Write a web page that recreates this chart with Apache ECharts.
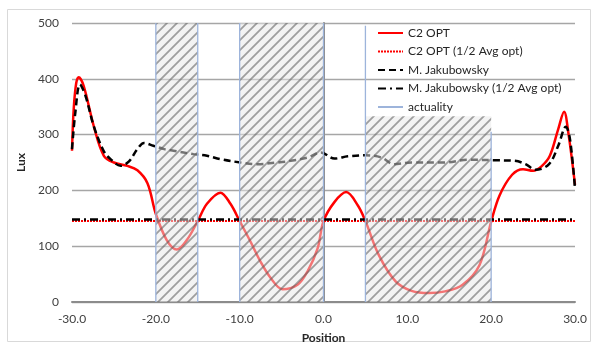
<!DOCTYPE html>
<html><head><meta charset="utf-8">
<script src="https://cdn.jsdelivr.net/npm/echarts@6/dist/echarts.min.js"></script>
<style>html,body{margin:0;padding:0;background:#fff}#c{width:598px;height:349px}</style>
</head><body><div id="c"></div>
<script>
// ---- data ----
const c2opt = [[-30,271],[-29.8,345],[-29.5,392],[-29.2,403],[-28.6,387],[-27.4,315],[-26.2,262],[-25.0,250],[-23.4,244],[-22.2,236],[-21.0,213],[-20.0,158],[-18.7,111],[-17.5,94],[-16.3,111],[-15.0,145],[-13.9,176],[-12.3,196],[-11.1,176],[-10.0,145],[-8.7,108],[-7.5,72],[-6.3,43],[-4.9,23],[-3.1,31],[-1.9,55],[-0.7,96],[0.0,145],[1.3,179],[2.7,197],[4.1,173],[5.0,145],[6.6,84],[8.6,37],[10.5,20],[12.6,16],[14.5,19],[16.6,31],[18.6,66],[20.0,144],[21.0,191],[22.5,228],[23.8,238],[25.0,235],[26.0,243],[27.0,262],[28.0,310],[28.7,341],[29.2,304],[30.0,210]];
const jakubowsky = [[-30,274],[-29.6,340],[-29.05,390],[-28.4,370],[-27.4,315],[-26.2,270],[-25.4,256],[-24.2,244],[-23.2,252],[-22.2,274],[-21.4,285],[-20.3,280],[-19.0,274],[-17.9,271],[-15.5,265],[-13.9,262],[-12.3,256],[-9.9,250],[-7.9,247],[-5.5,250],[-3.9,253],[-1.9,259],[-0.3,268],[1.3,257],[2.9,261],[5.0,263],[6.9,259],[8.4,247],[10.5,250],[14.4,250],[17.3,255],[20.4,254],[22.8,253],[24.1,247],[25.3,237],[26.9,247],[28.0,280],[28.9,314],[29.4,292],[30.0,203]];
const c2optHalf = [[-30,145],[30,145]];
const jakubowskyHalf = [[-30,148],[30,148]];
// actuality zones: [xStart, xEnd, height]
const actualityZones = [[-20,-15,500],[-10,0,500],[5,20,333]];
// actuality outline edges: [x, yFrom, yTo]
const actualityEdges = [[-20,0,500],[-15,0,500],[-10,0,500],[0,0,500],[5,0,495],[20,0,305]];

// ---- build ----
const edgeData = [];
actualityEdges.forEach(e => { edgeData.push([e[0], e[1]], [e[0], e[2]], [e[0], '-']); });

const pc = document.createElement('canvas'); pc.width = 10; pc.height = 10;
const g = pc.getContext('2d');
g.fillStyle = 'rgba(232,232,232,0.5)'; g.fillRect(0,0,10,10);
g.strokeStyle = 'rgba(90,90,90,0.55)'; g.lineWidth = 1.8;
g.beginPath();
g.moveTo(-2,12); g.lineTo(12,-2);
g.moveTo(-7,7); g.lineTo(7,-7);
g.moveTo(3,17); g.lineTo(17,3);
g.stroke();

const FONT = 'Lato';
const chart = echarts.init(document.getElementById('c'), null, {renderer:'canvas'});
chart.setOption({
  animation: false,
  textStyle: {fontFamily: FONT},
  graphic: [{type:'rect', shape:{x:7.5,y:9.5,width:583,height:332}, style:{fill:'none', stroke:'#d9d9d9', lineWidth:1}, z:-10}],
  grid: {left:72, right:23, top:23, bottom:45},
  legend: {
    orient:'vertical', left:372, top:22, itemWidth:25, itemHeight:12, itemGap:6.5,
    itemStyle:{opacity:0},
    textStyle:{fontFamily:FONT, fontSize:12, color:'#262626', lineHeight:12},
    data:['C2 OPT','C2 OPT (1/2 Avg opt)','M. Jakubowsky','M. Jakubowsky (1/2 Avg opt)','actuality']
  },
  xAxis: {
    type:'value', min:-30, max:30, interval:10,
    name:'Position', nameLocation:'middle', nameGap:30,
    nameTextStyle:{fontFamily:FONT, fontSize:12, fontWeight:'bold', color:'#262626'},
    axisLine:{show:true, lineStyle:{color:'#8c8c8c', width:2}},
    axisTick:{show:false},
    axisLabel:{fontFamily:FONT, fontSize:12, color:'#404040', margin:11, formatter: v => v.toFixed(1)},
    splitLine:{show:false}
  },
  yAxis: {
    type:'value', min:0, max:500, interval:100,
    name:'Lux', nameLocation:'middle', nameGap:40, nameRotate:90,
    nameTextStyle:{fontFamily:FONT, fontSize:12, fontWeight:'bold', color:'#262626'},
    axisLine:{show:true, lineStyle:{color:'#8c8c8c', width:2}},
    axisTick:{show:false},
    axisLabel:{fontFamily:FONT, fontSize:12, color:'#404040', margin:13},
    splitLine:{show:true, lineStyle:{color:'#a6a6a6', width:1.3}}
  },
  series: [
    {name:'C2 OPT', type:'line', data:c2opt, smooth:0.35, symbol:'none', z:3,
     lineStyle:{color:'#ff0000', width:2.5}, itemStyle:{color:'#ff0000'}},
    {name:'C2 OPT (1/2 Avg opt)', type:'line', data:c2optHalf, symbol:'none', z:3,
     lineStyle:{color:'#ff0000', width:2, type:[2,1]}, itemStyle:{color:'#ff0000'}},
    {name:'M. Jakubowsky', type:'line', data:jakubowsky, smooth:0.35, symbol:'none', z:4,
     lineStyle:{color:'#000000', width:2.5, type:[7,4]}, itemStyle:{color:'#000000'}},
    {name:'M. Jakubowsky (1/2 Avg opt)', type:'line', data:jakubowskyHalf, symbol:'none', z:3,
     lineStyle:{color:'#000000', width:2.5, type:[8,4,2,4]}, itemStyle:{color:'#000000'}},
    {name:'hatch', type:'custom', z:6, silent:true,
     data:actualityZones,
     encode:{x:[0,1], y:2},
     renderItem:function(params, api){
       const p0 = api.coord([api.value(0), api.value(2)]);
       const p1 = api.coord([api.value(1), 0]);
       return {type:'rect', shape:{x:p0[0], y:p0[1], width:p1[0]-p0[0], height:p1[1]-p0[1]},
               style:{fill:{image:pc, repeat:'repeat'}}};
     }},
    {name:'actuality', type:'line', data:edgeData, symbol:'none', z:7, connectNulls:false,
     lineStyle:{color:'#9db4db', width:1.3}, itemStyle:{color:'#9db4db'}}
  ]
});
</script>
</body></html>
